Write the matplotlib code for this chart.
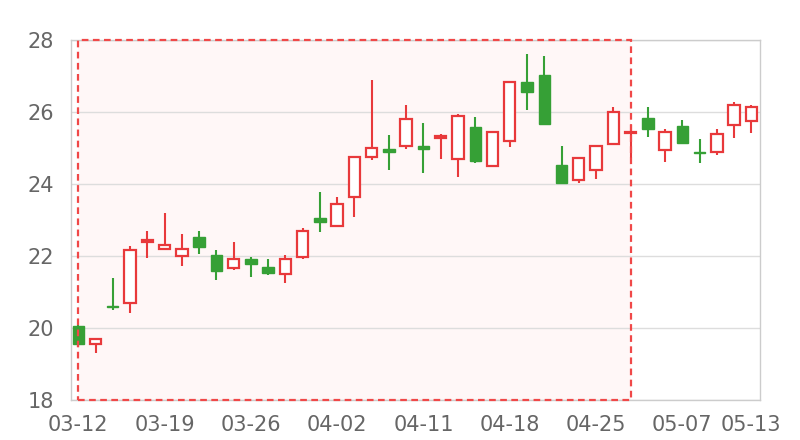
import numpy as np
import matplotlib
matplotlib.use("Agg")
import matplotlib.pyplot as plt
from matplotlib.patches import Rectangle

# trading days
dates = ["03-12", "03-13", "03-14", "03-15", "03-18", "03-19", "03-20", "03-21",
         "03-22", "03-25", "03-26", "03-27", "03-28", "03-29", "04-01", "04-02",
         "04-03", "04-08", "04-09", "04-10", "04-11", "04-12", "04-15", "04-16",
         "04-17", "04-18", "04-19", "04-22", "04-23", "04-24", "04-25", "04-26",
         "04-29", "04-30", "05-06", "05-07", "05-08", "05-09", "05-10", "05-13"]

opens = [20.06, 19.55, 20.62, 20.69, 22.38, 22.20, 22.00, 22.53, 22.02, 21.68,
         21.91, 21.69, 21.51, 21.96, 23.05, 22.84, 23.65, 24.74, 24.97, 25.06,
         25.05, 25.28, 24.69, 25.58, 24.49, 25.19, 26.83, 27.03, 24.52, 24.11,
         24.40, 25.11, 25.41, 25.84, 24.94, 25.60, 24.89, 24.88, 25.64, 25.74]
closes = [19.55, 19.69, 20.58, 22.16, 22.44, 22.30, 22.19, 22.25, 21.59, 21.93,
          21.78, 21.53, 21.91, 22.69, 22.95, 23.45, 24.74, 25.01, 24.90, 25.81,
          24.98, 25.32, 25.89, 24.63, 25.44, 26.82, 26.56, 25.67, 24.04, 24.71,
          25.05, 26.00, 25.45, 25.52, 25.45, 25.14, 24.85, 25.38, 26.19, 26.15]
highs = [20.08, 19.72, 21.38, 22.28, 22.69, 23.19, 22.60, 22.69, 22.18, 22.40,
         21.98, 21.91, 22.02, 22.79, 23.79, 23.63, 24.78, 26.90, 25.35, 26.19,
         25.70, 25.39, 25.94, 25.87, 25.44, 26.87, 27.60, 27.56, 25.06, 24.72,
         25.05, 26.13, 25.64, 26.13, 25.52, 25.78, 25.24, 25.52, 26.27, 26.20]
lows = [19.48, 19.31, 20.50, 20.41, 21.94, 22.17, 21.72, 22.06, 21.32, 21.61,
        21.42, 21.46, 21.24, 21.91, 22.66, 22.80, 23.07, 24.67, 24.39, 24.96,
        24.31, 24.70, 24.20, 24.57, 24.49, 25.04, 26.06, 25.65, 24.00, 24.03,
        24.14, 25.07, 24.71, 25.31, 24.62, 25.10, 24.59, 24.81, 25.29, 25.43]

tick_idx = [0, 5, 10, 15, 20, 25, 30, 35, 39]
highlight = ("03-12", "04-29")

up_col = "#e8393b"
down_col = "#36a036"
txt_col = "#666666"

fig = plt.figure(figsize=(8, 4.4), dpi=100)
ax = fig.add_axes([71/800, 40/440, 689/800, 360/440])

x = np.arange(len(dates))
o = np.array(opens)
c = np.array(closes)
up = c >= o
cols = np.where(up, up_col, down_col)

# wicks
ax.vlines(x, lows, highs, colors=cols, linewidth=1.5, zorder=3)

# bodies
w = 0.66
bottom = np.minimum(o, c)
height = np.maximum(np.abs(c - o), 0.02)
ax.bar(x[up], height[up], w, bottom[up], facecolor="white",
       edgecolor=up_col, linewidth=1.6, zorder=4)
ax.bar(x[~up], height[~up], w, bottom[~up], facecolor=down_col,
       edgecolor=down_col, linewidth=1.0, zorder=4)

# highlighted range
i0, i1 = dates.index(highlight[0]), dates.index(highlight[1])
ax.add_patch(Rectangle((i0, 18), i1 - i0, 10, facecolor="#fff7f7",
                       edgecolor="none", zorder=0.5))
ax.add_patch(Rectangle((i0, 18), i1 - i0, 10, facecolor="none",
                       edgecolor="#f04848", linewidth=1.6,
                       linestyle=(0, (3, 2)), zorder=5, clip_on=False))

ax.set_xlim(-0.42, 39.5)
ax.set_ylim(18, 28)
ax.set_yticks([18, 20, 22, 24, 26, 28])
ax.set_xticks(tick_idx)
ax.set_xticklabels([dates[i] for i in tick_idx])
ax.grid(axis="y", color="#dddddd", linewidth=1, zorder=0)
ax.set_axisbelow(True)
for s in ax.spines.values():
    s.set_color("#cccccc")
    s.set_linewidth(1)
ax.tick_params(length=0, labelsize=15, labelcolor=txt_col)
ax.tick_params(axis="x", pad=11)
ax.tick_params(axis="y", pad=12)

fig.savefig("out.png", dpi=100)
